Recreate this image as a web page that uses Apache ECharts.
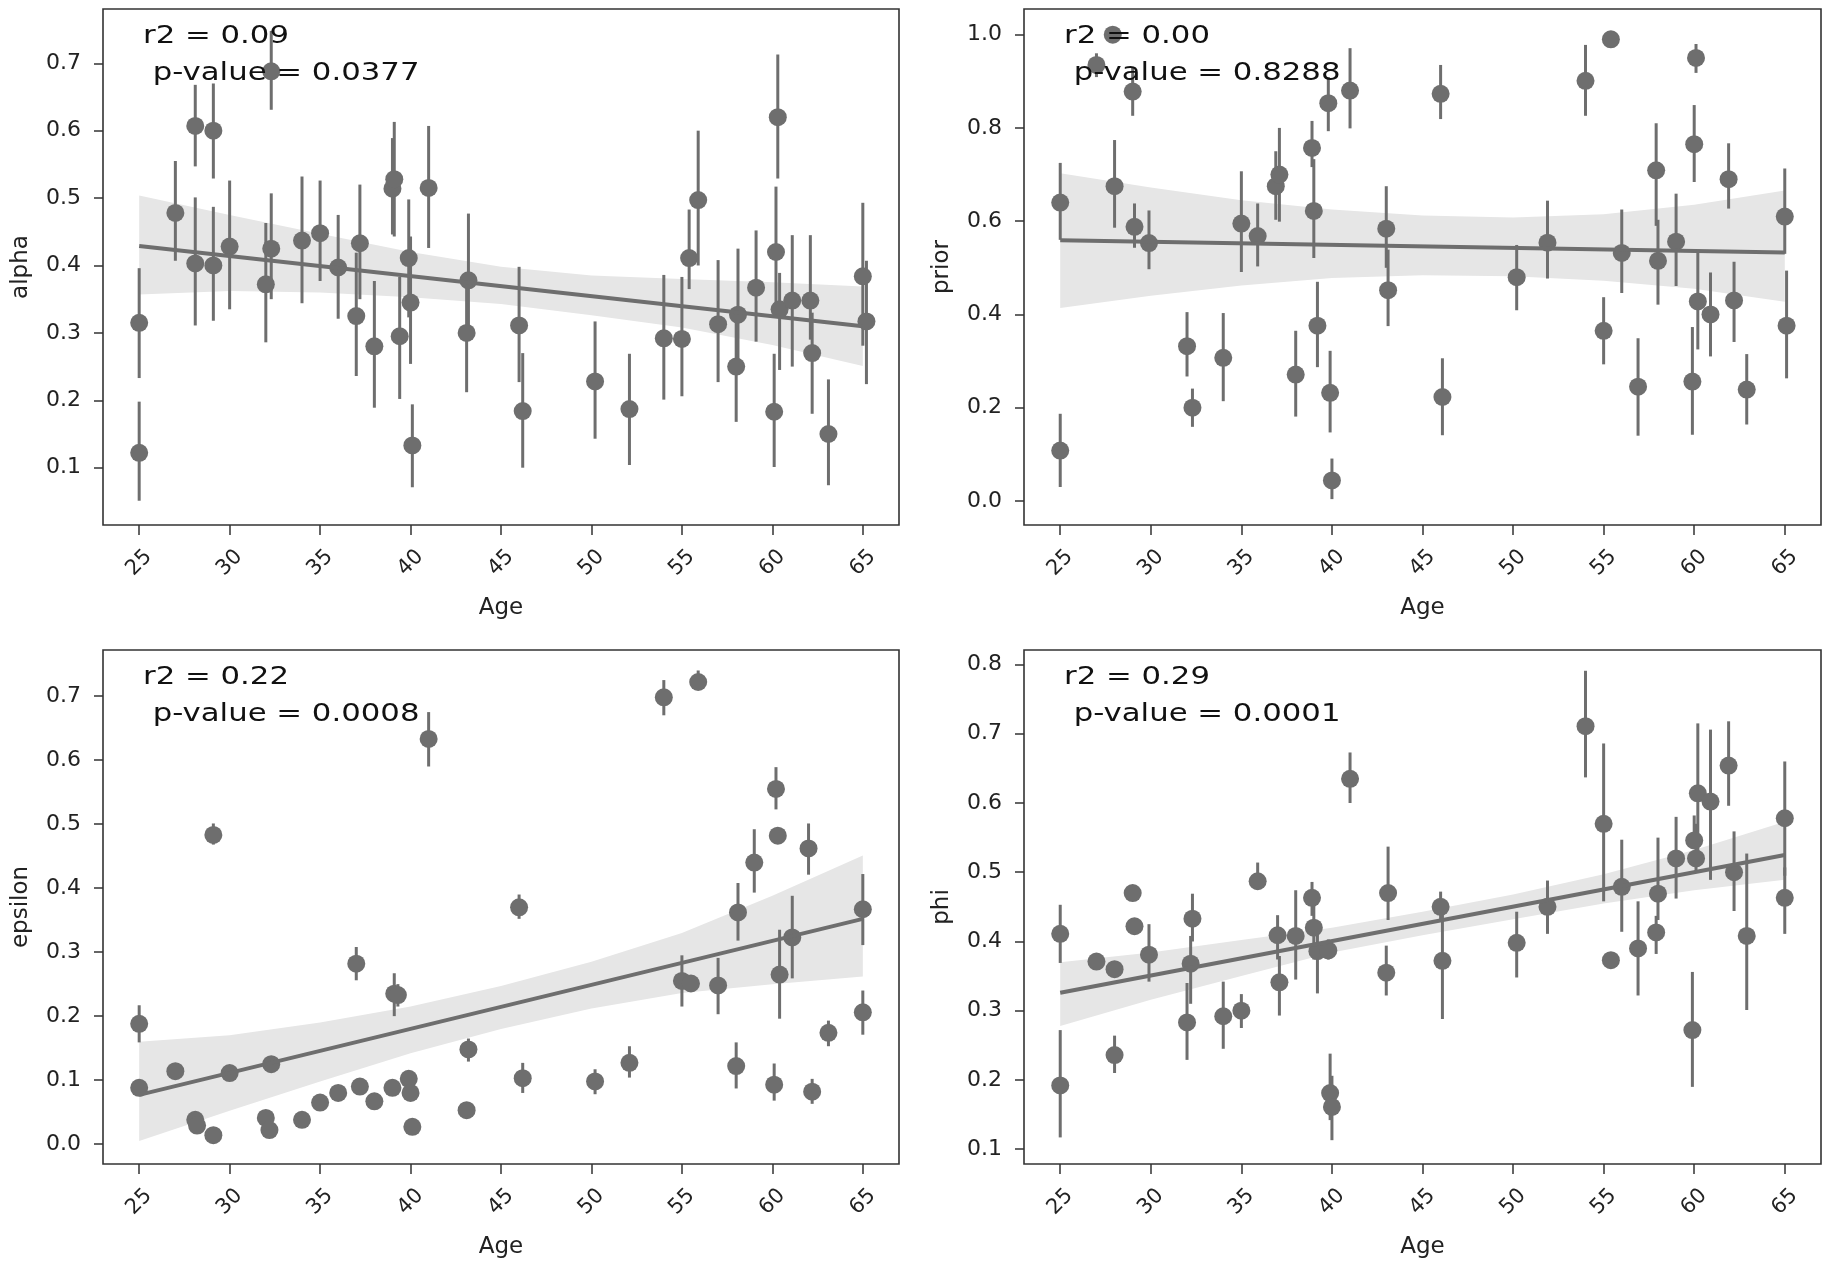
<!DOCTYPE html>
<html>
<head>
<meta charset="utf-8">
<script src="https://cdn.jsdelivr.net/npm/echarts@6/dist/echarts.min.js"></script>
<style>
html,body{margin:0;padding:0;background:#fff;}
#chart{width:1831px;height:1267px;}
</style>
</head>
<body>
<div id="chart"></div>
<script>
// ---------- data ----------
const xTicks = [25, 30, 35, 40, 45, 50, 55, 60, 65];
const bandX = [25, 30, 35, 40, 45, 50, 55, 60, 65];
const fitX = [25, 65];

// alpha
const alphaAges = [25,25,27,28.1,28.1,29.1,29.1,30,32,32.3, 32.3,34,35,36,37,37.2,38,39,39.1,39.4, 39.9,40,40.1,41,43.1,43.2,46,46.2,50.2,52.1, 54,55,55.4,55.9,57,58,58.1,59.1,60.1,60.2, 60.3,60.4,61.1,62.1,62.2,63.1,65,65.2];
const alphaValues = [0.315,0.122,0.478,0.607,0.403,0.600,0.400,0.428,0.372,0.425, 0.688,0.437,0.448,0.397,0.325,0.433,0.280,0.514,0.528,0.295, 0.411,0.345,0.133,0.515,0.300,0.378,0.311,0.184,0.228,0.187, 0.292,0.291,0.411,0.497,0.313,0.250,0.327,0.367,0.183,0.420, 0.620,0.335,0.348,0.348,0.270,0.150,0.384,0.317];
const alphaLow = [0.233,0.051,0.407,0.547,0.311,0.529,0.318,0.335,0.286,0.350, 0.631,0.344,0.377,0.321,0.236,0.350,0.189,0.446,0.443,0.202, 0.323,0.254,0.071,0.426,0.212,0.305,0.227,0.100,0.143,0.104, 0.201,0.206,0.365,0.400,0.227,0.168,0.251,0.287,0.101,0.332, 0.529,0.245,0.250,0.290,0.180,0.074,0.281,0.224];
const alphaHigh = [0.396,0.198,0.555,0.668,0.501,0.670,0.487,0.526,0.463,0.507, 0.748,0.532,0.526,0.475,0.419,0.520,0.377,0.589,0.613,0.383, 0.498,0.443,0.194,0.607,0.377,0.477,0.398,0.270,0.317,0.269, 0.386,0.383,0.483,0.600,0.408,0.338,0.425,0.452,0.269,0.517, 0.713,0.389,0.445,0.445,0.330,0.231,0.493,0.407];
const alphaFit = [0.429, 0.310];
const alphaBandLow = [0.357,0.362,0.360,0.353,0.343,0.326,0.308,0.282,0.251];
const alphaBandHigh = [0.504,0.475,0.447,0.420,0.398,0.385,0.380,0.375,0.369];
const alphaTicks = [0.1,0.2,0.3,0.4,0.5,0.6,0.7];

// prior
const priorAges = [25,25,27,27.9,28,29,29.1,29.9,32,32.3, 34,35,35.9,36.9,37.1,38,38.9,39,39.2,39.8, 39.9,40,41,43,43.1,46,46.1,50.2,51.9,54, 55,55.4,56,56.9,57.9,58,59,59.9,60,60.1, 60.2,60.9,61.9,62.2,62.9,65,65.1];
const priorValues = [0.640,0.108,0.935,1.000,0.675,0.878,0.588,0.553,0.332,0.200, 0.307,0.595,0.568,0.675,0.700,0.271,0.757,0.622,0.376,0.853, 0.232,0.044,0.880,0.584,0.452,0.873,0.223,0.480,0.554,0.901, 0.365,0.990,0.532,0.245,0.709,0.515,0.556,0.256,0.765,0.950, 0.428,0.400,0.690,0.430,0.239,0.610,0.376];
const priorLow = [0.560,0.030,0.909,0.985,0.586,0.826,0.543,0.497,0.267,0.159, 0.214,0.491,0.503,0.603,0.599,0.181,0.716,0.521,0.287,0.793, 0.147,0.004,0.799,0.500,0.375,0.819,0.141,0.409,0.477,0.826, 0.293,0.975,0.446,0.140,0.590,0.421,0.461,0.142,0.684,0.918, 0.325,0.310,0.627,0.341,0.164,0.530,0.263];
const priorHigh = [0.725,0.187,0.960,1.015,0.774,0.930,0.638,0.623,0.405,0.241, 0.403,0.707,0.638,0.750,0.800,0.365,0.815,0.733,0.470,0.909, 0.322,0.091,0.971,0.675,0.539,0.935,0.306,0.549,0.644,0.978, 0.437,1.005,0.625,0.349,0.810,0.603,0.659,0.373,0.849,0.980, 0.532,0.490,0.767,0.513,0.315,0.713,0.494];
const priorFit = [0.559, 0.533];
const priorBandLow = [0.414,0.440,0.462,0.478,0.484,0.482,0.472,0.455,0.427];
const priorBandHigh = [0.703,0.672,0.645,0.625,0.612,0.608,0.615,0.635,0.666];
const priorTicks = [0.0,0.2,0.4,0.6,0.8,1.0];

// epsilon
const epsilonAges = [25,25,27,28.1,28.2,29.1,29.1,30,32,32.2, 32.3,34,35,36,37,37.2,38,39,39.1,39.3, 39.9,40,40.1,41,43.1,43.2,46,46.2,50.2,52.1, 54,55,55.5,55.9,57,58,58.1,59,60.1,60.2, 60.3,60.4,61.1,62,62.2,63.1,65,65];
const epsilonValues = [0.188,0.088,0.114,0.038,0.029,0.483,0.014,0.111,0.041,0.022, 0.125,0.038,0.065,0.080,0.282,0.090,0.067,0.088,0.235,0.233, 0.102,0.080,0.027,0.633,0.053,0.148,0.370,0.103,0.098,0.127, 0.698,0.255,0.251,0.722,0.248,0.122,0.362,0.440,0.093,0.555, 0.482,0.265,0.323,0.462,0.082,0.174,0.367,0.206];
const epsilonLow = [0.159,0.078,0.108,0.033,0.024,0.468,0.009,0.105,0.035,0.016, 0.117,0.033,0.060,0.075,0.256,0.084,0.062,0.082,0.200,0.215, 0.094,0.073,0.022,0.590,0.048,0.129,0.352,0.080,0.078,0.104, 0.670,0.215,0.240,0.710,0.203,0.087,0.318,0.393,0.068,0.523, 0.474,0.196,0.259,0.421,0.063,0.153,0.311,0.171];
const epsilonHigh = [0.217,0.100,0.121,0.043,0.034,0.501,0.019,0.117,0.047,0.028, 0.133,0.043,0.070,0.085,0.308,0.096,0.072,0.094,0.267,0.250, 0.110,0.087,0.032,0.675,0.058,0.165,0.390,0.127,0.117,0.153, 0.725,0.295,0.262,0.740,0.291,0.159,0.408,0.492,0.126,0.589, 0.490,0.335,0.388,0.501,0.102,0.193,0.422,0.240];
const epsilonFit = [0.077, 0.352];
const epsilonBandLow = [0.005,0.052,0.098,0.142,0.180,0.212,0.236,0.250,0.262];
const epsilonBandHigh = [0.160,0.170,0.190,0.215,0.247,0.285,0.330,0.388,0.451];
const epsilonTicks = [0.0,0.1,0.2,0.3,0.4,0.5,0.6,0.7];

// phi
const phiAges = [25,25,27,28,28,29,29.1,29.9,32,32.2, 32.3,34,35,35.9,37,37.1,38,38.9,39,39.2, 39.8,39.9,40,41,43,43.1,46,46.1,50.2,51.9, 54,55,55.4,56,56.9,57.9,58,59,59.9,60, 60.1,60.2,60.9,61.9,62.2,62.9,65,65];
const phiValues = [0.411,0.192,0.371,0.360,0.236,0.470,0.422,0.381,0.283,0.368, 0.433,0.292,0.300,0.487,0.409,0.341,0.408,0.463,0.420,0.386, 0.387,0.181,0.161,0.635,0.355,0.470,0.450,0.372,0.398,0.450, 0.711,0.570,0.373,0.479,0.390,0.413,0.469,0.520,0.272,0.546, 0.520,0.614,0.602,0.654,0.500,0.408,0.578,0.463];
const phiLow = [0.369,0.117,0.365,0.352,0.210,0.463,0.415,0.342,0.229,0.310, 0.400,0.245,0.275,0.478,0.374,0.293,0.345,0.437,0.374,0.325, 0.374,0.142,0.113,0.600,0.322,0.431,0.429,0.288,0.348,0.411, 0.637,0.458,0.366,0.414,0.322,0.382,0.431,0.462,0.190,0.536, 0.501,0.524,0.489,0.596,0.444,0.301,0.495,0.411];
const phiHigh = [0.453,0.272,0.377,0.368,0.264,0.477,0.429,0.425,0.340,0.408, 0.469,0.342,0.324,0.514,0.438,0.379,0.474,0.486,0.471,0.429, 0.403,0.238,0.206,0.673,0.394,0.537,0.472,0.443,0.443,0.488, 0.791,0.686,0.380,0.547,0.458,0.437,0.550,0.580,0.356,0.582, 0.570,0.715,0.706,0.718,0.559,0.527,0.660,0.507];
const phiFit = [0.326, 0.525];
const phiBandLow = [0.278,0.316,0.350,0.384,0.409,0.432,0.455,0.474,0.489];
const phiBandHigh = [0.370,0.384,0.402,0.420,0.443,0.468,0.497,0.532,0.573];
const phiTicks = [0.1,0.2,0.3,0.4,0.5,0.6,0.7,0.8];

const notes = [
  'r2 = 0.09\n p-value = 0.0377',
  'r2 = 0.00\n p-value = 0.8288',
  'r2 = 0.22\n p-value = 0.0008',
  'r2 = 0.29\n p-value = 0.0001'
];

// ---------- layout / style ----------
const panels = [
  {name:'alpha',   ages:alphaAges,   vals:alphaValues,   lo:alphaLow,   hi:alphaHigh,   fit:alphaFit,   bLo:alphaBandLow,   bHi:alphaBandHigh,   ticks:alphaTicks,   ymin:0.015,  ymax:0.7805, grid:{left:103, top:9,   width:796, height:516}},
  {name:'prior',   ages:priorAges,   vals:priorValues,   lo:priorLow,   hi:priorHigh,   fit:priorFit,   bLo:priorBandLow,   bHi:priorBandHigh,   ticks:priorTicks,   ymin:-0.0515,ymax:1.055,  grid:{left:1024,top:9,   width:797, height:516}},
  {name:'epsilon', ages:epsilonAges, vals:epsilonValues, lo:epsilonLow, hi:epsilonHigh, fit:epsilonFit, bLo:epsilonBandLow, bHi:epsilonBandHigh, ticks:epsilonTicks, ymin:-0.031, ymax:0.772,  grid:{left:103, top:650, width:796, height:514}},
  {name:'phi',     ages:phiAges,     vals:phiValues,     lo:phiLow,     hi:phiHigh,     fit:phiFit,     bLo:phiBandLow,     bHi:phiBandHigh,     ticks:phiTicks,     ymin:0.0786, ymax:0.821,  grid:{left:1024,top:650, width:797, height:514}}
];

const markColor = '#6e6e6e';
const bandColor = '#e6e6e6';
const frameColor = '#333333';
const font = 'DejaVu Sans';

const grids = [], xAxes = [], yAxes = [], series = [], graphics = [];

panels.forEach((p, k) => {
  grids.push(Object.assign({show:true, borderColor:frameColor, borderWidth:1.6, backgroundColor:'transparent', containLabel:false}, p.grid));
  xAxes.push({
    type:'value', gridIndex:k, min:23, max:67,
    name:'Age', nameLocation:'middle', nameGap:72,
    nameTextStyle:{fontFamily:font, fontSize:23, color:'#222'},
    axisLine:{show:false, onZero:false},
    axisTick:{show:true, length:10, customValues:xTicks, lineStyle:{color:frameColor, width:1.5}},
    axisLabel:{show:true, customValues:xTicks, rotate:45, align:'center', verticalAlign:'middle', margin:38,
               fontFamily:font, fontSize:21, color:'#222'},
    splitLine:{show:false}
  });
  yAxes.push({
    type:'value', gridIndex:k, min:p.ymin, max:p.ymax,
    name:p.name, nameLocation:'middle', nameGap:70, nameRotate:90,
    nameTextStyle:{fontFamily:font, fontSize:23, color:'#222'},
    axisLine:{show:false, onZero:false},
    axisTick:{show:true, length:9, customValues:p.ticks, lineStyle:{color:frameColor, width:1.5}},
    axisLabel:{show:true, customValues:p.ticks, margin:22, fontFamily:font, fontSize:22, color:'#222',
               formatter:(v)=>Number(v).toFixed(1)},
    splitLine:{show:false}
  });

  // confidence band
  const bandData = bandX.map((x,i)=>[x, p.bLo[i], p.bHi[i]]);
  series.push({
    type:'custom', xAxisIndex:k, yAxisIndex:k, z:1, silent:true,
    data: bandData,
    encode:{x:0, y:[1,2]},
    renderItem:(params, api) => {
      if (params.dataIndex !== 0) return null;
      const pts = [];
      for (let i=0;i<bandData.length;i++) pts.push(api.coord([bandData[i][0], bandData[i][2]]));
      for (let i=bandData.length-1;i>=0;i--) pts.push(api.coord([bandData[i][0], bandData[i][1]]));
      return {type:'polygon', shape:{points:pts}, style:{fill:bandColor}};
    }
  });

  // error bars
  series.push({
    type:'custom', xAxisIndex:k, yAxisIndex:k, z:2, silent:true,
    data: p.ages.map((a,i)=>[a, p.lo[i], p.hi[i]]),
    encode:{x:0, y:[1,2]},
    renderItem:(params, api) => {
      const a = api.coord([api.value(0), api.value(1)]);
      const b = api.coord([api.value(0), api.value(2)]);
      return {type:'line', shape:{x1:a[0], y1:a[1], x2:b[0], y2:b[1]}, style:{stroke:markColor, lineWidth:3}};
    }
  });

  // points
  series.push({
    type:'scatter', xAxisIndex:k, yAxisIndex:k, z:3, silent:true,
    symbol:'circle', symbolSize:18,
    itemStyle:{color:markColor, opacity:1},
    data: p.ages.map((a,i)=>[a, p.vals[i]])
  });

  // regression line
  series.push({
    type:'line', xAxisIndex:k, yAxisIndex:k, z:4, silent:true,
    symbol:'none', lineStyle:{color:markColor, width:4},
    data: fitX.map((x,i)=>[x, p.fit[i]])
  });

  // annotation
  graphics.push({
    type:'text', x:p.grid.left + 40, y:p.grid.top + 9, scaleX:1.23, z:100,
    style:{text:notes[k], font:'25px "DejaVu Sans"', fill:'#111', lineHeight:37, align:'left', verticalAlign:'top'}
  });
});

const chart = echarts.init(document.getElementById('chart'), null, {renderer:'canvas'});
chart.setOption({
  backgroundColor:'#ffffff',
  animation:false,
  grid:grids, xAxis:xAxes, yAxis:yAxes, series:series, graphic:graphics
});
</script>
</body>
</html>
